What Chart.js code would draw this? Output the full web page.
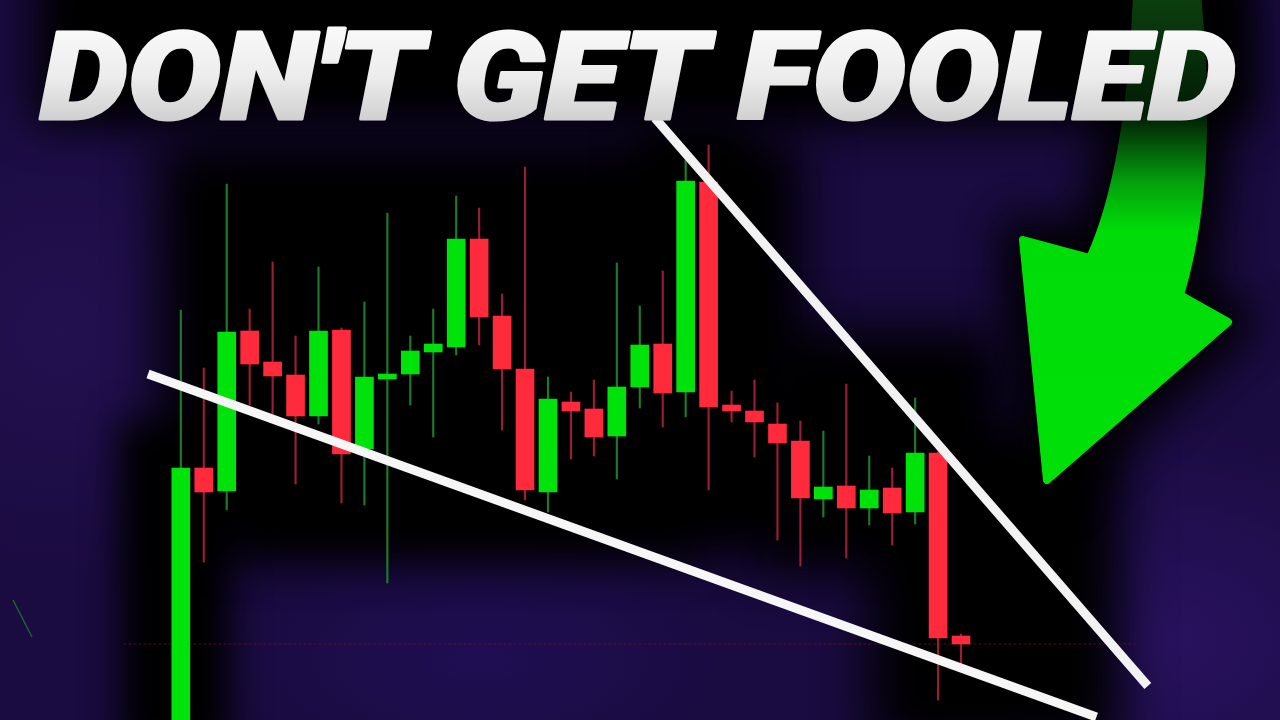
<!DOCTYPE html>
<html>
<head>
<meta charset="utf-8">
<script src="https://cdn.jsdelivr.net/npm/chart.js@4.4.1/dist/chart.umd.min.js"></script>
<style>
  html, body { margin: 0; padding: 0; }
  body {
    width: 1280px; height: 720px; overflow: hidden; position: relative;
    background:
      radial-gradient(ellipse 300px 220px at 1170px 640px, #28125f 0%, rgba(40,18,95,0) 100%),
      radial-gradient(ellipse 260px 120px at 480px 660px, #1f0e52 0%, rgba(31,14,82,0) 100%),
      radial-gradient(ellipse 260px 260px at 60px 330px, #22104f 0%, rgba(34,16,79,0) 100%),
      #1a0b40;
  }
  .blk { position: absolute; background: #000; }
  #chartWrap { position: absolute; left: 0; top: 0; width: 1280px; height: 720px; }
  svg { position: absolute; left: 0; top: 0; }
</style>
</head>
<body>
<!-- dark shadows behind chart and title -->
<div class="blk" style="left:35px;top:-40px;width:1220px;height:165px;filter:blur(22px)"></div>
<div class="blk" style="left:160px;top:140px;width:640px;height:410px;filter:blur(26px)"></div>
<div class="blk" style="left:640px;top:125px;width:110px;height:300px;filter:blur(22px)"></div>
<div class="blk" style="left:760px;top:330px;width:240px;height:240px;filter:blur(26px)"></div>
<div class="blk" style="left:870px;top:430px;width:250px;height:320px;filter:blur(26px)"></div>
<div class="blk" style="left:120px;top:420px;width:110px;height:330px;filter:blur(18px)"></div>
<div class="blk" style="left:230px;top:470px;width:480px;height:80px;filter:blur(24px)"></div>

<svg width="1280" height="720" style="z-index:0">
  <defs>
    <filter id="sh" x="-50%" y="-50%" width="200%" height="200%"><feGaussianBlur stdDeviation="22"/></filter>
  </defs>
  <path d="M1023,240 L1090,258 Q1130,170 1137,-5 L1197,-5 Q1215,180 1180,295 L1228,322 L1047,480 Z"
        fill="#000" stroke="#000" stroke-width="50" stroke-linejoin="round" filter="url(#sh)" opacity="0.95"/>
  <line x1="13" y1="600" x2="32" y2="637" stroke="#1e8a2a" stroke-width="1.5" opacity="0.7"/>
</svg>

<div id="chartWrap"><canvas id="myChart" width="1280" height="720"></canvas></div>

<svg width="1280" height="720" style="z-index:2">
  <defs>
    <linearGradient id="ag" gradientUnits="userSpaceOnUse" x1="0" y1="0" x2="0" y2="480">
      <stop offset="0" stop-color="#0b3e0e"/>
      <stop offset="0.24" stop-color="#021c05"/>
      <stop offset="0.38" stop-color="#03a00c"/>
      <stop offset="0.48" stop-color="#00dc08"/>
      <stop offset="1" stop-color="#00e008"/>
    </linearGradient>
    <linearGradient id="tg" x1="0" y1="0" x2="0" y2="1">
      <stop offset="0" stop-color="#ffffff"/>
      <stop offset="0.5" stop-color="#ececec"/>
      <stop offset="1" stop-color="#bdbdbd"/>
    </linearGradient>
  </defs>
  <path d="M1023,240 L1090,258 Q1130,170 1137,-5 L1197,-5 Q1215,180 1180,295 L1228,322 L1047,480 Z"
        fill="url(#ag)" stroke="url(#ag)" stroke-width="8" stroke-linejoin="round"/>
  <text x="40" y="119" textLength="1196" lengthAdjust="spacingAndGlyphs"
        font-family="Roboto, 'Liberation Sans', sans-serif" font-weight="900" font-style="italic"
        font-size="122" fill="url(#tg)" stroke="url(#tg)" stroke-width="3" stroke-linejoin="round">DON'T GET FOOLED</text>
</svg>

<script>
// candle index (one per bar)
const bars = [0,1,2,3,4,5,6,7,8,9,10,11,12,13,14,15,16,17,18,19,20,21,22,23,24,25,26,27,28,29,30,31,32,33,34];

// OHLC values
const open  = [-2.0,25.2,22.9,38.9,35.8,34.5,30.4,39.0,27.1,34.1,34.6,36.8,37.3,48.1,40.4,35.1,22.8,31.8,31.1,28.4,33.3,37.6,32.8,53.8,31.5,30.9,29.6,27.9,22.1,23.4,21.2,23.2,20.8,26.7,8.4];
const high  = [41.0,35.2,53.6,41.1,45.8,38.4,45.3,39.2,41.8,50.7,38.4,41.1,52.4,51.2,42.6,55.3,34.3,32.8,34.0,45.7,41.4,44.9,56.0,57.5,32.9,34.0,31.7,29.9,28.9,33.6,26.4,25.2,32.2,26.8,8.6];
const low   = [-2.0,15.8,21.0,31.5,30.6,23.6,29.6,21.7,21.5,13.7,31.5,28.3,36.5,37.5,29.0,22.0,20.8,26.1,26.4,24.1,31.2,29.3,30.3,23.0,29.8,26.3,18.0,15.4,20.3,16.2,19.5,17.5,19.6,2.0,5.6];
const close = [25.2,22.8,38.8,35.6,34.4,30.4,38.9,26.6,34.3,34.6,36.9,37.6,48.1,40.3,35.1,23.0,32.1,30.9,28.3,33.3,37.5,32.7,53.9,31.3,30.9,29.8,27.7,22.2,23.3,21.2,23.0,20.7,26.7,8.2,7.6];

// trend lines (x = candle index, y = price)
const lowerLineX = [-1.43, 39.9];
const lowerLineY = [34.6, 0.3];
const upperLineX = [20.66, 42.14];
const upperLineY = [60.2, 3.4];
const lastPrice = 7.6;

const upGreen = '#00e30a';
const downRed = '#ff2a3c';
const wickGreen = '#1d7a2a';
const wickRed = '#9a1e34';

function isUp(i) { return close[i] >= open[i]; }

const bodyData = bars.map((b, i) => ({ x: b, y: [open[i], close[i]] }));
const wickData = bars.map((b, i) => ({ x: b, y: [low[i], high[i]] }));
const lowerData = lowerLineX.map((x, i) => ({ x: x, y: lowerLineY[i] }));
const upperData = upperLineX.map((x, i) => ({ x: x, y: upperLineY[i] }));
const priceData = [{ x: -2.5, y: lastPrice }, { x: 41.6, y: lastPrice }];

const ctx = document.getElementById('myChart');

new Chart(ctx, {
  type: 'bar',
  data: {
    datasets: [
      {
        type: 'line',
        data: upperData,
        borderColor: '#f2f2f2',
        borderWidth: 9,
        pointRadius: 0,
        order: 0
      },
      {
        type: 'line',
        data: lowerData,
        borderColor: '#f6f6f6',
        borderWidth: 9,
        pointRadius: 0,
        order: 0
      },
      {
        data: bodyData,
        backgroundColor: c => isUp(c.dataIndex) ? upGreen : downRed,
        barThickness: 18,
        grouped: false,
        order: 1
      },
      {
        data: wickData,
        backgroundColor: c => isUp(c.dataIndex) ? wickGreen : wickRed,
        barThickness: 1.5,
        grouped: false,
        order: 2
      },
      {
        type: 'line',
        data: priceData,
        borderColor: 'rgba(140,20,40,0.55)',
        borderWidth: 1,
        borderDash: [3, 2],
        pointRadius: 0,
        order: 3
      }
    ]
  },
  options: {
    responsive: false,
    animation: false,
    devicePixelRatio: 1,
    layout: { padding: 0 },
    plugins: { legend: { display: false }, tooltip: { enabled: false } },
    scales: {
      x: { type: 'linear', min: -7.88, max: 47.9, offset: false, display: false },
      y: { min: 0, max: 72, display: false }
    }
  }
});
</script>
</body>
</html>
